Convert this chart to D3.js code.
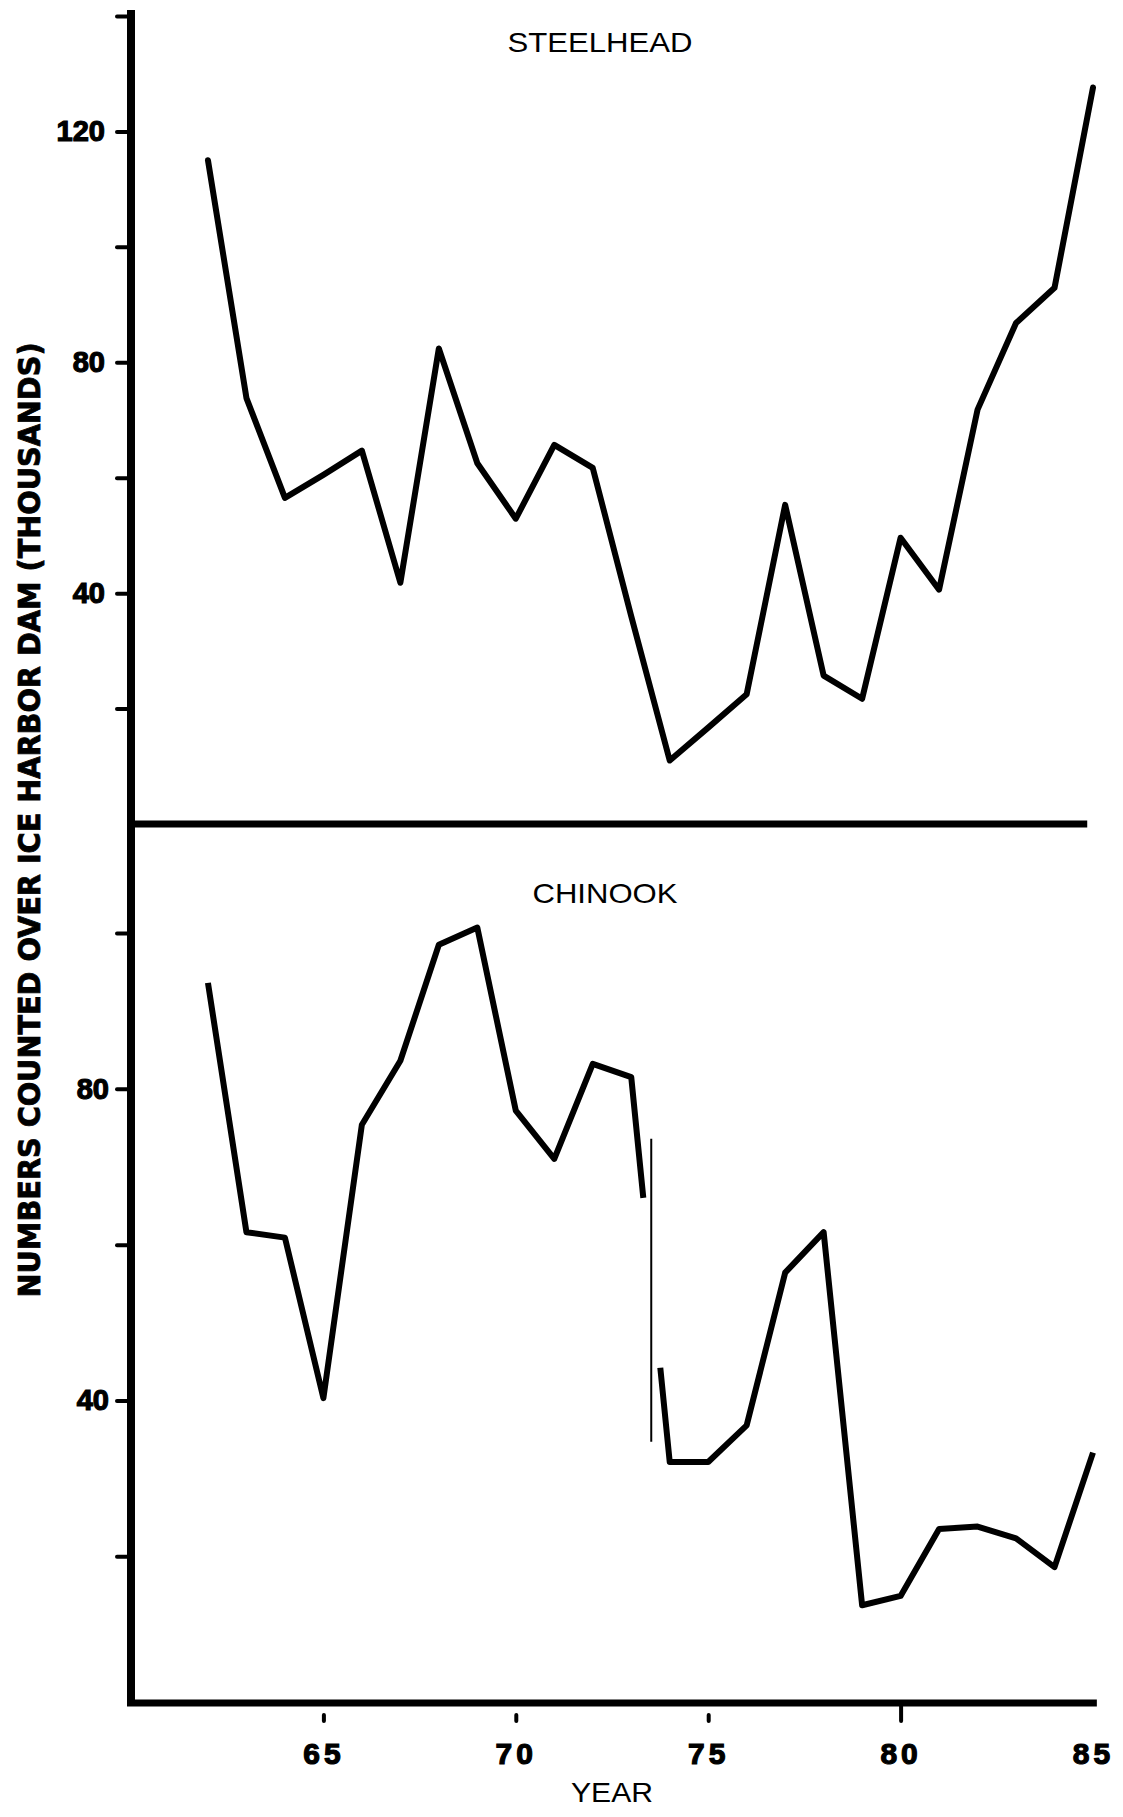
<!DOCTYPE html>
<html>
<head>
<meta charset="utf-8">
<script src="https://cdn.jsdelivr.net/npm/d3@7"></script>
<style>
  body { margin: 0; background: #fff; }
  svg { display: block; }
</style>
</head>
<body>
<div id="chart"></div>
<script>
// fish counts over Ice Harbor Dam, thousands
var years = [62, 63, 64, 65, 66, 67, 68, 69, 70, 71, 72, 73, 74, 75, 76, 77, 78, 79, 80, 81, 82, 83, 84, 85];
var steelhead = [115, 73.8, 56.5, 60.5, 64.7, 41.8, 82.4, 62.5, 52.9, 65.7, 61.7, 36, 11, 16.7, 22.5, 55.3, 25.7, 21.7, 49.6, 40.6, 71.8, 86.8, 92.9, 127.6];
var chinook = [93.6, 61.6, 60.9, 40.3, 75.4, 83.6, 98.5, 100.7, 77.2, 71, 83.2, 81.5, 32.1, 32.1, 36.8, 56.4, 61.6, 13.7, 14.9, 23.5, 23.8, 22.3, 18.6, 33.3];

var xTicks = [65, 70, 75, 80, 85];
var topTicks = [20, 40, 60, 80, 100, 120, 140];
var topLabels = [40, 80, 120];
var botTicks = [20, 40, 60, 80, 100];
var botLabels = [40, 80];

// the chinook trace is broken in the scan between 73 and 74 (values where it stops / starts again)
var chinookGap = [66, 44.2];
// thin vertical stroke beside the gap: year, from value, to value
var breakMark = [73.52, 73.6, 34.7];

var width = 1123;
var height = 1817;

var svg = d3.select("#chart").append("svg")
    .attr("width", width)
    .attr("height", height);

var x = d3.scaleLinear().domain([60, 85]).range([131, 1093]);
var yTop = d3.scaleLinear().domain([0, 140]).range([824, 16]);
var yBot = d3.scaleLinear().domain([0, 114]).range([1712, 824]);

var line = function(ys){
    return d3.line()
        .x(function(d){ return x(d[0]); })
        .y(function(d){ return ys(d[1]); });
};

// y ticks
svg.append("g")
    .attr("transform", "translate(131,0)")
    .call(d3.axisLeft(yTop).tickValues(topTicks).tickSize(14).tickPadding(12)
        .tickFormat(function(d){ return topLabels.indexOf(d) >= 0 ? d : ""; }))
    .call(function(g){ g.select(".domain").remove(); });

svg.append("g")
    .attr("transform", "translate(131,0)")
    .call(d3.axisLeft(yBot).tickValues(botTicks).tickSize(14).tickPadding(8)
        .tickFormat(function(d){ return botLabels.indexOf(d) >= 0 ? d : ""; }))
    .call(function(g){ g.select(".domain").remove(); });

svg.selectAll(".tick line")
    .attr("stroke", "#000")
    .attr("stroke-width", 4)
    .attr("stroke-linecap", "round");

svg.selectAll(".tick text")
    .attr("font-family", "Liberation Sans, Arial, sans-serif")
    .attr("font-weight", "bold")
    .attr("font-size", "29px")
    .attr("fill", "#000")
    .attr("stroke", "#000")
    .attr("stroke-width", 1.2);

// x ticks and labels
var xg = svg.append("g")
    .attr("transform", "translate(0,1703)")
    .call(d3.axisBottom(x).tickValues(xTicks).tickSize(18).tickPadding(22))
    .call(function(g){ g.select(".domain").remove(); });

xg.selectAll(".tick line")
    .attr("stroke", "#000")
    .attr("stroke-width", 4)
    .attr("stroke-linecap", "round")
    .attr("y1", function(d){ return d == 80 ? 0 : 12; })
    .attr("opacity", function(d){ return d == 85 ? 0 : 1; });

xg.selectAll(".tick text")
    .attr("font-family", "Liberation Sans, Arial, sans-serif")
    .attr("font-weight", "bold")
    .attr("font-size", "30px")
    .attr("letter-spacing", "4px")
    .attr("fill", "#000")
    .attr("stroke", "#000")
    .attr("stroke-width", 1.2);

// frame lines
svg.append("line")
    .attr("x1", x(60)).attr("x2", x(60))
    .attr("y1", 10).attr("y2", 1706)
    .attr("stroke", "#000").attr("stroke-width", 8);

svg.append("line")
    .attr("x1", x(60)).attr("x2", x(84.85))
    .attr("y1", yTop(0)).attr("y2", yTop(0))
    .attr("stroke", "#000").attr("stroke-width", 7);

svg.append("line")
    .attr("x1", x(60) - 4).attr("x2", x(85.1))
    .attr("y1", 1703).attr("y2", 1703)
    .attr("stroke", "#000").attr("stroke-width", 7);

// steelhead
var sData = years.map(function(d, i){ return [d, steelhead[i]]; });
svg.append("path")
    .attr("d", line(yTop)(sData))
    .attr("fill", "none")
    .attr("stroke", "#000")
    .attr("stroke-width", 6)
    .attr("stroke-linejoin", "round")
    .attr("stroke-linecap", "round");

// chinook, split at the gap
var i73 = years.indexOf(73);
var v0 = chinook[i73], v1 = chinook[i73 + 1];
var gapYear = chinookGap.map(function(v){ return 73 + (v0 - v) / (v0 - v1); });
var cData = years.map(function(d, i){ return [d, chinook[i]]; });
var cPart1 = cData.slice(0, i73 + 1).concat([[gapYear[0], chinookGap[0]]]);
var cPart2 = [[gapYear[1], chinookGap[1]]].concat(cData.slice(i73 + 1));

svg.selectAll(".chinook")
    .data([cPart1, cPart2])
    .enter().append("path")
    .attr("class", "chinook")
    .attr("d", function(d){ return line(yBot)(d); })
    .attr("fill", "none")
    .attr("stroke", "#000")
    .attr("stroke-width", 6)
    .attr("stroke-linejoin", "round")
    .attr("stroke-linecap", "butt");

svg.append("line")
    .attr("x1", x(breakMark[0])).attr("x2", x(breakMark[0]))
    .attr("y1", yBot(breakMark[1])).attr("y2", yBot(breakMark[2]))
    .attr("stroke", "#000").attr("stroke-width", 2);

// titles
svg.append("text")
    .attr("x", 600).attr("y", 52)
    .attr("text-anchor", "middle")
    .attr("font-family", "Liberation Sans, Arial, sans-serif")
    .attr("font-size", "28px")
    .attr("textLength", 185)
    .attr("lengthAdjust", "spacingAndGlyphs")
    .text("STEELHEAD");

svg.append("text")
    .attr("x", 605).attr("y", 903)
    .attr("text-anchor", "middle")
    .attr("font-family", "Liberation Sans, Arial, sans-serif")
    .attr("font-size", "28px")
    .attr("textLength", 145)
    .attr("lengthAdjust", "spacingAndGlyphs")
    .text("CHINOOK");

svg.append("text")
    .attr("x", 612).attr("y", 1802)
    .attr("text-anchor", "middle")
    .attr("font-family", "Liberation Sans, Arial, sans-serif")
    .attr("font-size", "28px")
    .attr("textLength", 82)
    .attr("lengthAdjust", "spacingAndGlyphs")
    .text("YEAR");

svg.append("text")
    .attr("transform", "translate(40,820) rotate(-90)")
    .attr("text-anchor", "middle")
    .attr("font-family", "DejaVu Sans Condensed, DejaVu Sans, sans-serif")
    .attr("font-weight", "bold")
    .attr("font-size", "30px")
    .attr("stroke", "#000")
    .attr("stroke-width", 0.8)
    .attr("textLength", 955)
    .attr("lengthAdjust", "spacingAndGlyphs")
    .text("NUMBERS COUNTED OVER ICE HARBOR DAM (THOUSANDS)");
</script>
</body>
</html>
